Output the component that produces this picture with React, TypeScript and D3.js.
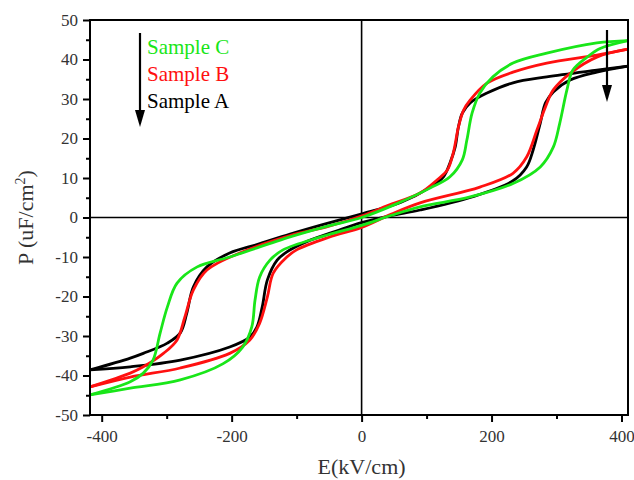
import { useEffect, useRef } from 'react';
import * as d3 from 'd3';

// loop branches as [E (kV/cm), P (uC/cm2)]
const sampleAUp = [
  [-418, -38.6], [-356, -37.8], [-279, -36.1], [-203, -32.8], [-172, -30.3], [-161, -27.7],
  [-153, -22.7], [-145, -15.8], [-130, -10.8], [-115, -8.7], [-80, -5.8], [-40, -3.5],
  [0, -1.3], [45, 0.5], [90, 1.9], [170, 5.2], [233, 9.3], [254, 12.8], [264, 17.1],
  [275, 23.9], [283, 29], [295, 31.8], [321, 34.8], [362, 36.8], [410, 38.3],
];
const sampleADown = [
  [410, 38.3], [362, 37.3], [285, 35.6], [233, 34.1], [193, 31.5], [167, 29], [155, 26.4],
  [149, 22.9], [144, 17.8], [136, 13.8], [126, 10.3], [106, 7.7], [60, 3.8], [2, 1],
  [-60, -1.8], [-110, -4.2], [-160, -6.8], [-203, -9], [-238, -12.5], [-259, -17.6],
  [-269, -24.2], [-279, -29.2], [-299, -31.8], [-336, -34.4], [-356, -35.6], [-418, -38.6],
];
const sampleBUp = [
  [-418, -42.9], [-356, -40.4], [-279, -38.1], [-203, -34.4], [-172, -31], [-157, -26.8],
  [-145, -20.1], [-136, -14.1], [-115, -10], [-100, -8.2], [-50, -5], [0, -2.5], [45, 0.8],
  [90, 3.7], [182, 7.7], [233, 11.2], [254, 15.3], [270, 22.2], [283, 28], [295, 32.3],
  [321, 36.5], [362, 40.6], [410, 42.6],
];
const sampleBDown = [
  [410, 42.6], [362, 41.1], [285, 39.1], [233, 36.8], [193, 34], [167, 29.7], [157, 27.2],
  [149, 22.9], [141, 16.3], [132, 12], [116, 9.5], [90, 6.2], [40, 3], [2, 0.5], [-50, -2.2],
  [-110, -4.6], [-183, -8.7], [-238, -13.3], [-259, -18.4], [-272, -25.2], [-284, -31],
  [-305, -34.4], [-336, -37.8], [-356, -39.4], [-418, -42.9],
];
const sampleCUp = [
  [-418, -44.9], [-356, -43.2], [-279, -41.1], [-213, -37], [-183, -32.8], [-169, -27.7],
  [-164, -20.9], [-157, -15.1], [-141, -10.8], [-121, -8.2], [-60, -4.8], [0, -2], [45, 0.5],
  [90, 2.7], [167, 5.2], [233, 8.6], [275, 12.8], [295, 17.8], [305, 23.9], [316, 32.3],
  [325, 37.3], [347, 40.6], [367, 42.8], [410, 44.8],
];
const sampleCDown = [
  [410, 44.8], [362, 44.2], [285, 41.6], [233, 39.1], [202, 35.6], [182, 31.5], [170, 26.4],
  [162, 19.6], [155, 14.6], [136, 10.3], [106, 7.5], [50, 3.2], [0, 0], [-55, -2.3],
  [-110, -4.9], [-203, -10], [-253, -12.5], [-284, -16.6], [-299, -22.7], [-310, -29.2],
  [-321, -36.1], [-336, -39.4], [-356, -41.6], [-418, -44.9],
];

const seriesNames = ['Sample A', 'Sample B', 'Sample C'];
const seriesColors = ['#000000', '#ff1010', '#19e619'];
const xTicks = [-400, -200, 0, 200, 400];
const xMinor = [-300, -100, 100, 300];
const yTicks = [-50, -40, -30, -20, -10, 0, 10, 20, 30, 40, 50];
const yMinor = [-45, -35, -25, -15, -5, 5, 15, 25, 35, 45];

const App = () => {
  const ref = useRef(null);

  useEffect(() => {
    const width = 634;
    const height = 480;
    const left = 90, right = 628, top = 20, bottom = 415;
    const font = '"Liberation Serif", "Times New Roman", serif';

    const svg = d3.select(ref.current).attr('width', width).attr('height', height);
    svg.selectAll('*').remove();

    const x = d3.scaleLinear().domain([-418, 410]).range([left, right]);
    const y = d3.scaleLinear().domain([-50, 50]).range([bottom, top]);

    // zero lines
    svg.append('line').attr('x1', left).attr('x2', right).attr('y1', y(0)).attr('y2', y(0))
      .attr('stroke', '#000').attr('stroke-width', 1.6);
    svg.append('line').attr('x1', x(0)).attr('x2', x(0)).attr('y1', top).attr('y2', bottom)
      .attr('stroke', '#000').attr('stroke-width', 1.6);

    // curves
    const line = d3.line().x((d) => x(d[0])).y((d) => y(d[1])).curve(d3.curveCatmullRom.alpha(0.5));
    const loops = [
      [sampleAUp, sampleADown],
      [sampleBUp, sampleBDown],
      [sampleCUp, sampleCDown],
    ];
    loops.forEach((branches, i) => {
      branches.forEach((b) => {
        svg.append('path').attr('d', line(b)).attr('fill', 'none')
          .attr('stroke', seriesColors[i]).attr('stroke-width', 2.8)
          .attr('stroke-linejoin', 'round');
      });
    });

    // axes
    const fmt = (d) => String(d);
    const gx = svg.append('g').attr('transform', `translate(0,${bottom})`)
      .call(d3.axisBottom(x).tickValues(xTicks).tickSize(7).tickPadding(8).tickFormat(fmt));
    svg.append('g').attr('transform', `translate(0,${bottom})`)
      .call(d3.axisBottom(x).tickValues(xMinor).tickSize(4).tickFormat(() => ''))
      .select('.domain').remove();
    const gy = svg.append('g').attr('transform', `translate(${left},0)`)
      .call(d3.axisLeft(y).tickValues(yTicks).tickSize(7).tickPadding(5).tickFormat(fmt));
    svg.append('g').attr('transform', `translate(${left},0)`)
      .call(d3.axisLeft(y).tickValues(yMinor).tickSize(4).tickFormat(() => ''))
      .select('.domain').remove();
    [gx, gy].forEach((g) => {
      g.attr('font-family', font).attr('font-size', 17);
      g.select('.domain').remove();
      g.selectAll('text').attr('font-family', font).attr('font-size', 17).attr('fill', '#333');
    });
    svg.selectAll('.tick line').attr('stroke', '#000').attr('stroke-width', 2);

    // frame
    svg.append('rect').attr('x', left).attr('y', top).attr('width', right - left)
      .attr('height', bottom - top).attr('fill', 'none').attr('stroke', '#000').attr('stroke-width', 2);

    // axis titles
    svg.append('text').attr('x', x(0)).attr('y', 474).attr('text-anchor', 'middle')
      .attr('font-family', font).attr('font-size', 22).attr('fill', '#333').text('E(kV/cm)');
    const yl = svg.append('text').attr('transform', `translate(33,${y(0)}) rotate(-90)`)
      .attr('text-anchor', 'middle').attr('font-family', font).attr('font-size', 22).attr('fill', '#333');
    yl.append('tspan').text('P (uF/cm');
    yl.append('tspan').attr('font-size', 14).attr('dy', -8).text('2');
    yl.append('tspan').attr('dy', 8).text(')');

    // legend with arrow
    const legendY = [108, 81, 54];
    seriesNames.forEach((name, i) => {
      svg.append('text').attr('x', 147).attr('y', legendY[i]).attr('font-family', font)
        .attr('font-size', 21).attr('fill', seriesColors[i]).text(name);
    });
    const arrow = (ax, y1, y2) => {
      svg.append('line').attr('x1', ax).attr('x2', ax).attr('y1', y1).attr('y2', y2 - 14)
        .attr('stroke', '#000').attr('stroke-width', 2.2);
      svg.append('path').attr('d', `M${ax - 5},${y2 - 17} L${ax + 5},${y2 - 17} L${ax},${y2} Z`)
        .attr('fill', '#000');
    };
    arrow(140, 33, 127);
    arrow(607, 30, 102);
  }, []);

  return (
    <div style={{ position: 'absolute', left: 0, top: 0 }}>
      <svg ref={ref} style={{ display: 'block' }}></svg>
    </div>
  );
};

export default App;
